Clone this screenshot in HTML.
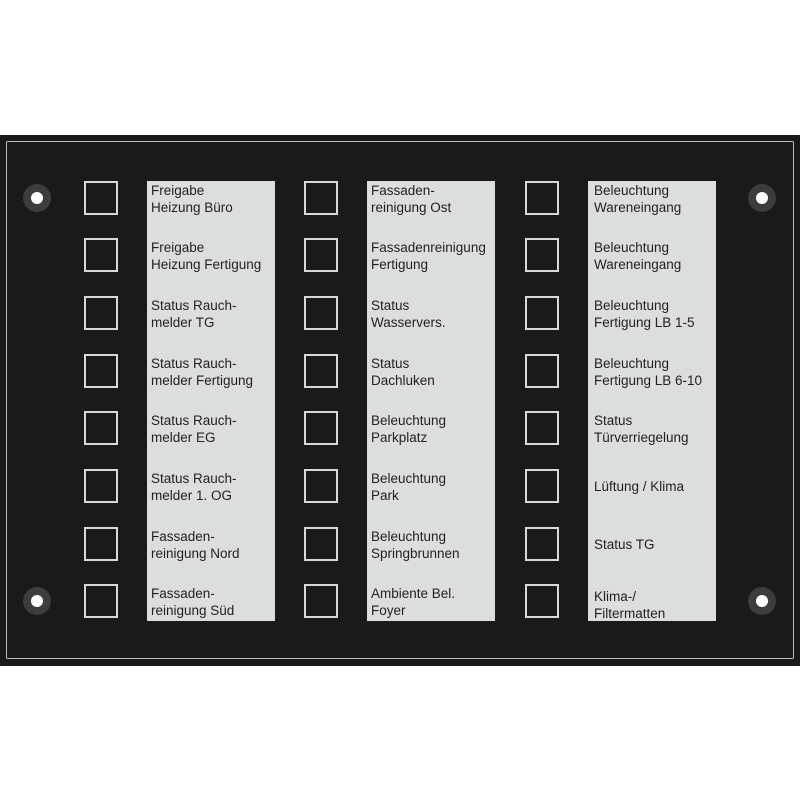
<!DOCTYPE html>
<html><head><style>
body{margin:0;width:800px;height:800px;background:#fff;position:relative;overflow:hidden;font-family:"Liberation Sans",sans-serif}
.panel{position:absolute;left:0;top:135px;width:800px;height:531px;background:#1b1a1a}
.inner{position:absolute;left:6px;top:141px;width:786px;height:516px;border:1.5px solid #bdbdbd;border-radius:2px}
.lab{position:absolute;top:181px;height:440px;width:128px;background:#dcdddd}
.sq{position:absolute;width:30px;height:30px;border:2px solid #d8d8d8;box-sizing:content-box}
.t{position:absolute;font-size:13.5px;line-height:17px;color:#222;white-space:nowrap}
.scr{position:absolute;width:28px;height:28px;border-radius:50%;background:#3d3d3d}
.scr::after{content:"";position:absolute;left:8px;top:8px;width:12px;height:12px;border-radius:50%;background:#fff}
</style></head><body>
<div class="panel"></div><div class="inner"></div>
<div class="scr" style="left:23px;top:184px"></div>
<div class="scr" style="left:748px;top:184px"></div>
<div class="scr" style="left:23px;top:587px"></div>
<div class="scr" style="left:748px;top:587px"></div>
<div class="lab" style="left:147px"></div>
<div class="lab" style="left:367px"></div>
<div class="lab" style="left:588px"></div>
<div id="c"></div>
<script>
var rows=[181,238,296,354,411,469,527,584];
var cols=[[84,151,["Freigabe|Heizung Büro","Freigabe|Heizung Fertigung","Status Rauch-|melder TG","Status Rauch-|melder Fertigung","Status Rauch-|melder EG","Status Rauch-|melder 1. OG","Fassaden-|reinigung Nord","Fassaden-|reinigung Süd"]],
[304,371,["Fassaden-|reinigung Ost","Fassadenreinigung|Fertigung","Status|Wasservers.","Status|Dachluken","Beleuchtung|Parkplatz","Beleuchtung|Park","Beleuchtung|Springbrunnen","Ambiente Bel.|Foyer"]],
[525,594,["Beleuchtung|Wareneingang","Beleuchtung|Wareneingang","Beleuchtung|Fertigung LB 1-5","Beleuchtung|Fertigung LB 6-10","Status|Türverriegelung","Lüftung / Klima","Status TG","Klima-/|Filtermatten"]]];
var h="";
cols.forEach(function(c){rows.forEach(function(y,i){
h+='<div class="sq" style="left:'+c[0]+'px;top:'+y+'px"></div>';
var s=c[2][i],two=s.indexOf("|")>=0;
var top=two?y+1:y+9;
if(i==7&&c[0]==525)top=y+4;
h+='<div class="t" style="left:'+c[1]+'px;top:'+top+'px">'+s.replace("|","<br>")+'</div>';
});});
document.getElementById("c").innerHTML=h;
</script>
</body></html>
